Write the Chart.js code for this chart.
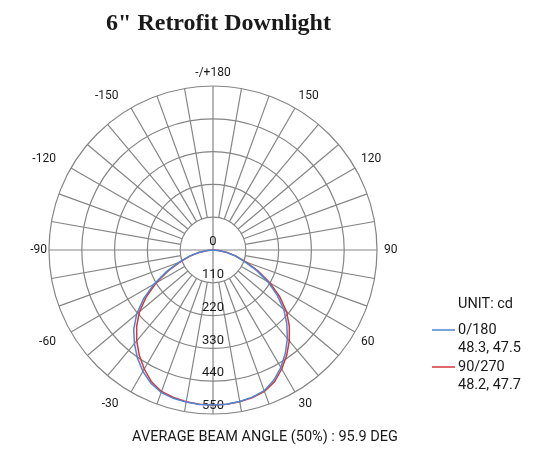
<!DOCTYPE html>
<html><head><meta charset="utf-8">
<script src="https://cdn.jsdelivr.net/npm/chart.js@4.4.1/dist/chart.umd.min.js"></script>
<style>html,body{margin:0;padding:0;background:#fff;}canvas{display:block;}</style>
</head><body>
<canvas id="c" width="548" height="462"></canvas>
<script>
// ---- text ----
const chartTitle = '6" Retrofit Downlight';
const footerText = 'AVERAGE BEAM ANGLE (50%) : 95.9 DEG';
const unitText = 'UNIT: cd';
const seriesNames = ['0/180', '90/270'];
const seriesBeam = ['48.3, 47.5', '48.2, 47.7'];
const seriesColors = ['#4f86cf', '#d8343b'];

// ---- data (candela vs. gamma angle, degrees) ----
const angles = [-90,-85,-80,-75,-70,-65,-60,-55,-50,-45,-40,-35,-30,-25,-20,-15,-10,-5,0,
                5,10,15,20,25,30,35,40,45,50,55,60,65,70,75,80,85,90];
const plane0_180 = [0,18,49,83,122,172,228,284,334,376,410,442,470,493,508,515,518,520,520,
                    519,516,511,502,482,455,423,388,350,310,262,212,160,113,78,46,17,0];
const plane90_270 = [0,18,48,80,117,166,220,273,322,362,398,431,461,488,505,512,517,519,520,
                     519,517,512,505,488,461,431,398,362,322,273,220,166,117,80,48,18,0];

// ---- scale ----
const ringTicks = [0, 110, 220, 330, 440, 550];
const angleLabelValues = [180, 150, 120, 90, 60, 30, -30, -60, -90, -120, -150];
const angleLabelText = ['-/+180', '150', '120', '90', '60', '30', '-30', '-60', '-90', '-120', '-150'];
const spokeStep = 10;
const catStep = 5;

// categories around the circle: index 0 = 0 deg (down), clockwise
const nCat = 360 / catStep;
const catAngles = [];
for (let i = 0; i < nCat; i++) {
  const a = -i * catStep;
  catAngles.push(a < -180 ? a + 360 : a);
}
function seriesToRadar(vals) {
  return catAngles.map(a => {
    const k = angles.indexOf(a);
    return k >= 0 ? vals[k] : null;
  });
}
function indexOfAngle(a) {
  return catAngles.findIndex(c => c === a || (Math.abs(a) === 180 && Math.abs(c) === 180));
}

const FONT = 'Roboto, "Liberation Sans", sans-serif';
const TXT = '#1a1a1a';
const GRID = '#858585';

const polarPlugin = {
  id: 'polarDecor',
  beforeDatasetsDraw(chart) {
    const s = chart.scales.r;
    const ctx = chart.ctx;
    ctx.save();
    ctx.strokeStyle = GRID;
    ctx.lineWidth = 1.2;
    const rIn = s.getDistanceFromCenterForValue(ringTicks[1]);
    const rOut = s.getDistanceFromCenterForValue(ringTicks[ringTicks.length - 1]);
    for (let a = -170; a <= 180; a += spokeStep) {
      const idx = indexOfAngle(a);
      const p0 = s.getPointPosition(idx, a % 90 === 0 ? 0 : rIn);
      const p1 = s.getPointPosition(idx, rOut);
      ctx.beginPath();
      ctx.moveTo(p0.x, p0.y);
      ctx.lineTo(p1.x, p1.y);
      ctx.stroke();
    }
    // ring value labels along the downward axis
    ctx.fillStyle = TXT;
    ctx.font = '13px ' + FONT;
    ctx.textAlign = 'center';
    ctx.textBaseline = 'middle';
    const i0 = indexOfAngle(0);
    ringTicks.forEach(v => {
      const p = s.getPointPosition(i0, s.getDistanceFromCenterForValue(v));
      ctx.fillText(String(v), p.x, p.y - 8);
    });
    // angle labels
    ctx.font = '12px ' + FONT;
    angleLabelValues.forEach((a, k) => {
      const idx = indexOfAngle(a);
      const pad = a === -90 ? 2 : 7;
      const dx = (a < 0 && a !== -90) ? -9 : 0;
      const p = s.getPointPosition(idx, rOut + pad);
      let deg = (p.angle * 180 / Math.PI + 90) % 360; if (deg < 0) deg += 360;
      deg = Math.round(deg);
      ctx.textAlign = (deg === 0 || deg === 180) ? 'center' : (deg < 180 ? 'left' : 'right');
      ctx.textBaseline = (deg === 90 || deg === 270) ? 'middle' : ((deg > 270 || deg < 90) ? 'bottom' : 'top');
      ctx.fillText(angleLabelText[k], p.x + dx, p.y);
    });
    ctx.restore();
  },
  afterDraw(chart) {
    const ctx = chart.ctx;
    ctx.save();
    ctx.fillStyle = TXT;
    // title
    ctx.font = 'bold 24px "Liberation Serif", "Times New Roman", serif';
    ctx.textAlign = 'center';
    ctx.textBaseline = 'middle';
    ctx.fillText(chartTitle, 218.5, 24);
    // footer
    ctx.font = '14.5px ' + FONT;
    ctx.fillText(footerText, 265, 437);
    // legend
    ctx.textAlign = 'left';
    ctx.font = '14.5px ' + FONT;
    ctx.fillText(unitText, 458, 304);
    const rows = [330, 367];
    seriesNames.forEach((n, k) => {
      ctx.strokeStyle = seriesColors[k];
      ctx.lineWidth = 1.5;
      ctx.beginPath();
      ctx.moveTo(432, rows[k]);
      ctx.lineTo(455, rows[k]);
      ctx.stroke();
      ctx.fillText(n, 458, rows[k]);
      ctx.fillText(seriesBeam[k], 458, rows[k] + 18.5);
    });
    ctx.restore();
  }
};

new Chart(document.getElementById('c'), {
  type: 'radar',
  data: {
    labels: catAngles.map(String),
    datasets: [
      { label: seriesNames[0], data: seriesToRadar(plane0_180), borderColor: seriesColors[0],
        borderWidth: 1.5, pointRadius: 0, fill: false, tension: 0, spanGaps: false },
      { label: seriesNames[1], data: seriesToRadar(plane90_270), borderColor: seriesColors[1],
        borderWidth: 1.5, pointRadius: 0, fill: false, tension: 0, spanGaps: false }
    ]
  },
  options: {
    responsive: false,
    animation: false,
    layout: { padding: { left: 49, right: 171, top: 86, bottom: 48 } },
    plugins: { legend: { display: false }, title: { display: false }, tooltip: { enabled: false } },
    scales: {
      r: {
        startAngle: 180,
        min: 0, max: 550,
        ticks: { display: false, stepSize: 110 },
        grid: { circular: true, color: GRID, lineWidth: 1.2 },
        angleLines: { display: false },
        pointLabels: { display: false }
      }
    }
  },
  plugins: [polarPlugin]
});
</script>
</body></html>
